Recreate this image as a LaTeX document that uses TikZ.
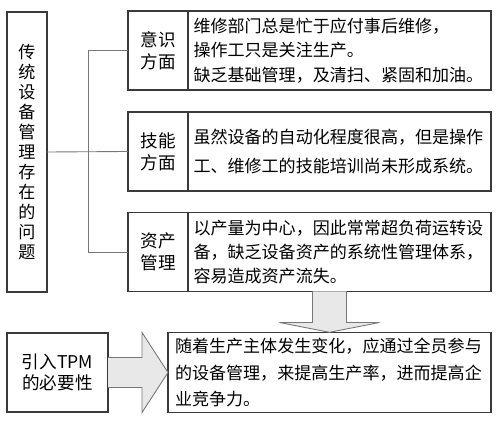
\documentclass[tikz,border=0pt]{standalone}
\usepackage{fontspec}
\setmainfont{Noto Sans CJK SC}
\usepackage{xcolor}
\usetikzlibrary{positioning, calc}
\definecolor{framegray}{HTML}{3A3A3A}
\definecolor{linkgray}{HTML}{777777}
\definecolor{arrowgray}{HTML}{E8E8E8}

\tikzset{
  tag/.style={draw=framegray, line width=0.7pt, outer sep=0pt, minimum width=1.2cm,
    minimum height=1.58cm, align=center, font=\fontsize{10}{12.5}\selectfont},
  body/.style={draw=framegray, line width=0.7pt, outer sep=0pt, minimum height=1.58cm,
    text width=5.84cm, inner xsep=0.11cm, align=left, font=\fontsize{9.7}{13.8}\selectfont},
  blockarrow/.style={fill=arrowgray, draw=linkgray, line width=0.5pt},
}

\begin{document}
\begin{tikzpicture}
    \useasboundingbox (0,0) rectangle (10,-8.5);

    % Problem column
    \node[draw=framegray, line width=0.7pt, outer sep=0pt, minimum width=0.8cm, minimum height=5.6cm,
      align=center, font=\fontsize{9.7}{11.4}\selectfont] (prob) at (0.54,-3.04)
      {传\\统\\设\\备\\管\\理\\存\\在\\的\\问\\题};

    % Three aspects
    \node[tag] (aware) at (3.16,-1.01) {意识\\方面};
    \node[body, right=0pt of aware] (awaretxt)
      {维修部门总是忙于应付事后维修，\\操作工只是关注生产。\\缺乏基础管理，及清扫、紧固和加油。};

    \node[tag] (skill) at (3.16,-3.03) {技能\\方面};
    \node[body, right=0pt of skill, font=\fontsize{9.7}{16}\selectfont] (skilltxt)
      {虽然设备的自动化程度很高，但是操作\\工、维修工的技能培训尚未形成系统。};

    \node[tag] (asset) at (3.16,-5.04) {资产\\管理};
    \node[body, right=0pt of asset] (assettxt)
      {以产量为中心，因此常常超负荷运转设\\备，缺乏设备资产的系统性管理体系，\\容易造成资产流失。};

    % Links
    \draw[linkgray, line width=0.5pt] (prob.east) -- (skill.west);
    \draw[linkgray, line width=0.5pt] (aware.west) -- ++(-0.8,0) |- (asset.west);

    % Why TPM
    \node[tag, minimum width=2.02cm, font=\fontsize{10}{11.5}\selectfont] (tpm) at (1.15,-7.45) {引入TPM\\的必要性};
    \node[body, text width=6.18cm, inner xsep=0.14cm, font=\fontsize{9.7}{15}\selectfont] (result) at (6.59,-7.45)
      {随着生产主体发生变化，应通过全员参与\\的设备管理，来提高生产率，进而提高企\\业竞争力。};

    % Block arrows
    \filldraw[blockarrow] ($(tpm.east)+(0,0.3)$) -- ++(0.68,0) -- ++(0,0.5) -- (result.west)
      -- ($(tpm.east)+(0.68,-0.8)$) -- ++(0,0.5) -- ($(tpm.east)+(0,-0.3)$);

    \coordinate (dtop) at (result.north |- assettxt.south);
    \filldraw[blockarrow] ($(dtop)+(-0.34,0)$) -- ++(0,-0.62) -- ++(-0.66,0) -- (result.north)
      -- ($(dtop)+(1,-0.62)$) -- ++(-0.66,0) -- ($(dtop)+(0.34,0)$);

\end{tikzpicture}
\end{document}
